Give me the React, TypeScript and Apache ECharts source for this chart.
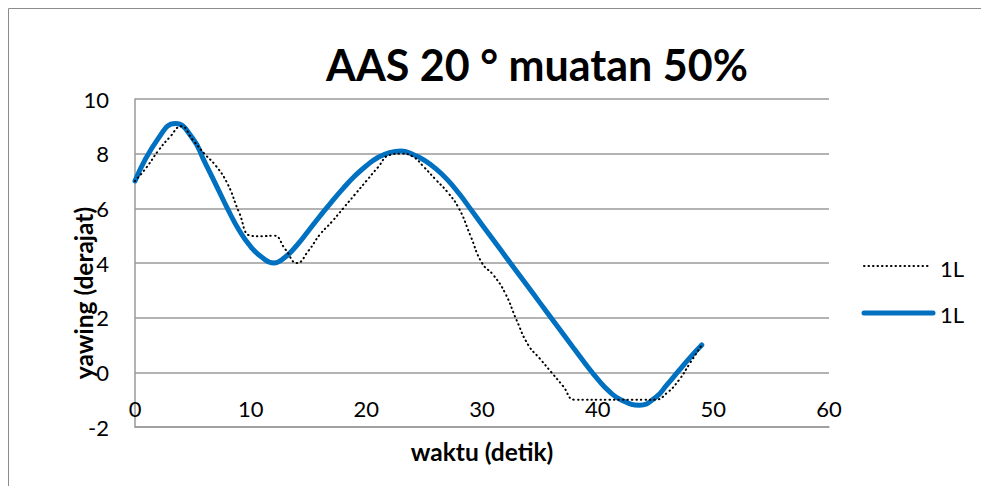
import React, { useEffect, useRef } from "react";
import * as echarts from "echarts";

const chartTitle = "AAS 20 ° muatan 50%";
const xAxisTitle = "waktu (detik)";
const yAxisTitle = "yawing (derajat)";
const seriesNames = ["1L", "1L"];

const measuredTimes = [
  0, 1, 2, 3, 4, 5, 6, 7, 8, 9, 10, 11, 12, 13, 14, 15, 16, 17, 18, 19, 20, 21, 22, 23, 24,
  25, 26, 27, 28, 29, 30, 31, 32, 33, 34, 35, 36, 37, 38, 39, 40, 41, 42, 43, 44, 45, 46, 47, 48, 49,
];

const measured1L = [
  7.0, 7.5, 8.1, 8.6, 9.0, 8.5, 8.0, 7.55, 6.9, 5.85, 5.0, 4.98, 5.0, 4.5, 4.0, 4.45, 5.05, 5.5, 6.0, 6.5,
  7.0, 7.5, 7.95, 8.0, 7.9, 7.5, 7.05, 6.6, 6.0, 5.0, 4.0, 3.55, 2.9, 1.9, 1.0, 0.5, 0.0, -0.5, -1.0, -1.0,
  -1.0, -1.0, -1.0, -1.0, -1.0, -1.0, -0.75, -0.3, 0.35, 1.0,
];

const fittedTimes = [
  0, 2, 3.5, 5, 6, 7, 8, 9, 10, 11, 12, 13, 14, 15, 16, 17, 18, 19, 20, 21, 22, 23, 24,
  25, 26, 27, 28, 29, 30, 31, 32, 33, 34, 35, 36, 37, 38, 39, 40, 41, 42, 43.6, 45, 46, 47, 48, 49,
];

const fitted1L = [
  7.0, 8.55, 9.1, 8.55, 7.72, 6.86, 5.99, 5.2, 4.6, 4.2, 4.0, 4.22, 4.65, 5.18, 5.72, 6.24, 6.73, 7.18,
  7.56, 7.86, 8.04, 8.1, 7.98, 7.76, 7.45, 7.05, 6.55, 5.98, 5.4, 4.83, 4.26, 3.69, 3.12, 2.55, 1.98, 1.41, 0.84, 0.28,
  -0.25, -0.7, -1.0, -1.2, -0.92, -0.45, 0.05, 0.55, 1.0,
];

const BLUE = "#0070C0";
const GRID = "#9a9a9a";
const FONT = "Lato, 'Open Sans', sans-serif";

export default function App() {
  const ref = useRef<HTMLDivElement | null>(null);

  useEffect(() => {
    if (!ref.current) return;
    const chart = echarts.init(ref.current, undefined, { renderer: "svg" });
    chart.setOption({
      animation: false,
      backgroundColor: "#ffffff",
      textStyle: { fontFamily: FONT },
      grid: { left: 135, top: 99, width: 694, height: 328, containLabel: false },
      xAxis: {
        type: "value",
        min: 0,
        max: 60,
        interval: 10,
        axisLine: { show: true, onZero: false, lineStyle: { color: GRID, width: 1.5 } },
        axisTick: { show: false },
        splitLine: { show: false },
        axisLabel: { inside: true, color: "#000", fontSize: 22, margin: 8, fontFamily: FONT },
      },
      yAxis: {
        type: "value",
        min: -2,
        max: 10,
        interval: 2,
        axisLine: { show: true, lineStyle: { color: GRID, width: 1.5 } },
        axisTick: { show: false },
        splitLine: { show: true, lineStyle: { color: GRID, width: 1.5 } },
        axisLabel: { color: "#000", fontSize: 22, margin: 26, fontFamily: FONT },
      },
      series: [
        {
          name: seriesNames[0],
          type: "line",
          data: measuredTimes.map((t, i) => [t, measured1L[i]]),
          smooth: 0.5,
          symbol: "none",
          z: 3,
          lineStyle: { color: "#000", width: 2, type: [0.5, 4], cap: "round" },
        },
        {
          name: seriesNames[1],
          type: "line",
          data: fittedTimes.map((t, i) => [t, fitted1L[i]]),
          smooth: 0.5,
          symbol: "none",
          z: 2,
          lineStyle: { color: BLUE, width: 5, cap: "round" },
        },
      ],
      graphic: [
        {
          type: "polyline",
          shape: { points: [[8.5, 486], [8.5, 8.5], [981, 8.5]] },
          style: { stroke: "#8c8c8c", lineWidth: 1, fill: "none" },
          silent: true,
        },
        {
          type: "text",
          x: 537,
          y: 64,
          style: {
            text: chartTitle,
            fontSize: 43,
            fontWeight: "bold",
            fontFamily: FONT,
            fill: "#000",
            align: "center",
            verticalAlign: "middle",
          },
        },
        {
          type: "text",
          x: 482,
          y: 451,
          style: {
            text: xAxisTitle,
            fontSize: 24.5,
            fontWeight: "bold",
            fontFamily: FONT,
            fill: "#000",
            align: "center",
            verticalAlign: "middle",
          },
        },
        {
          type: "text",
          x: 83,
          y: 293,
          rotation: Math.PI / 2,
          style: {
            text: yAxisTitle,
            fontSize: 24.5,
            fontWeight: "bold",
            fontFamily: FONT,
            fill: "#000",
            align: "center",
            verticalAlign: "middle",
          },
        },
        {
          type: "line",
          shape: { x1: 864, y1: 266, x2: 928, y2: 266 },
          style: { stroke: "#000", lineWidth: 2, lineDash: [0.5, 4], lineCap: "round" },
        },
        {
          type: "text",
          x: 940,
          y: 268,
          style: { text: seriesNames[0], fontSize: 22, fontFamily: FONT, fill: "#000", verticalAlign: "middle" },
        },
        {
          type: "line",
          shape: { x1: 864, y1: 313, x2: 933, y2: 313 },
          style: { stroke: BLUE, lineWidth: 5, lineCap: "round" },
        },
        {
          type: "text",
          x: 940,
          y: 314,
          style: { text: seriesNames[1], fontSize: 22, fontFamily: FONT, fill: "#000", verticalAlign: "middle" },
        },
      ],
    });
    return () => chart.dispose();
  }, []);

  return (
    <div
      ref={ref}
      style={{ position: "fixed", left: 0, top: 0, width: 981, height: 486, background: "#fff" }}
    />
  );
}
